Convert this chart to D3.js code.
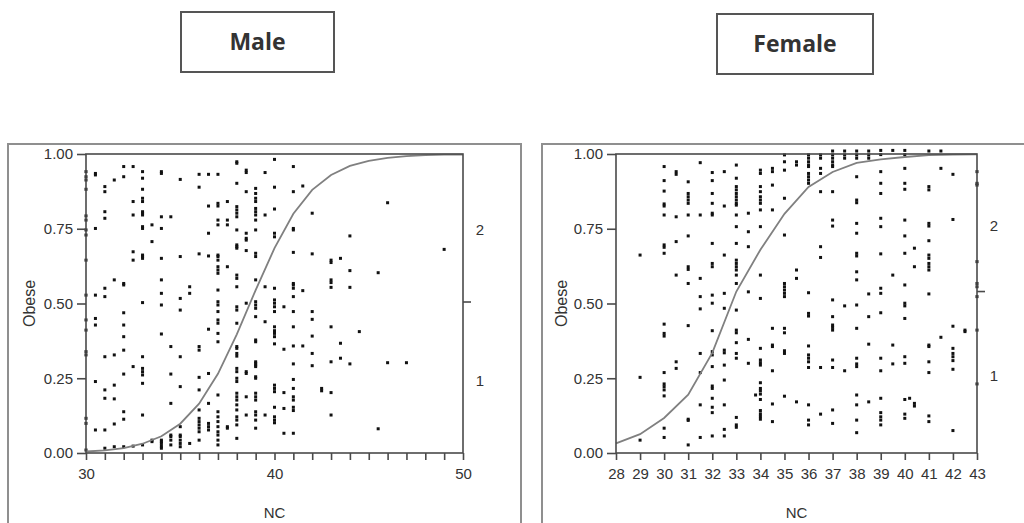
<!DOCTYPE html>
<html><head><meta charset="utf-8">
<script src="https://cdn.jsdelivr.net/npm/d3@7"></script>
<style>body{margin:0;background:#fff} svg{display:block}</style>
</head><body>
<svg id="c" width="1024" height="523"></svg>
<script>
// ---------- data ----------
const titles = ["Male", "Female"];
const yTicks = [0, 0.25, 0.5, 0.75, 1];
const rightLabels = ["2", "1"];
const axisTitleX = "NC";
const axisTitleY = "Obese";

const maleXTicks = d3.range(30, 51);
const maleXLabels = [30, 40, 50];
const femaleXTicks = d3.range(28, 44);
const femaleXLabels = d3.range(28, 44);

const maleCurveNC = [30,31,32,33,34,35,36,37,38,39,40,41,42,43,44,45,46,47,48,49,50];
const maleCurveP  = [0.005,0.009,0.016,0.031,0.056,0.098,0.165,0.265,0.397,0.545,0.685,0.80,0.88,0.93,0.96,0.977,0.987,0.993,0.996,0.998,0.998];

const femaleCurveNC = [28,29,30,31,32,33,34,35,36,37,38,39,40,41,42,43];
const femaleCurveP  = [0.032,0.063,0.117,0.195,0.335,0.54,0.68,0.80,0.89,0.94,0.97,0.982,0.99,0.996,0.998,0.999];

const maleNC = [30,30.5,31,31.5,32,32.5,33,33.5,34,34.5,35,35.5,36,36.5,37,37.5,38,38.5,39,39.5,40,40.5,41,41.5,42,42.5,43,43.5,44,44.5,45.5,46,47,49];
const maleObese = [
[0.941,0.924,0.913,0.882,0.793,0.779,0.746,0.729,0.645,0.528,0.445,0.411,0.339,0.328,0.116,0.099,0.010],
[0.935,0.930,0.751,0.528,0.450,0.428,0.239,0.077],
[0.891,0.874,0.807,0.785,0.551,0.523,0.322,0.211,0.183,0.077,0.016],
[0.913,0.579,0.328,0.227,0.181,0.097,0.021],
[0.958,0.924,0.567,0.562,0.469,0.428,0.389,0.344,0.264,0.138,0.113,0.021],
[0.958,0.841,0.796,0.673,0.645,0.289,0.023],
[0.941,0.919,0.882,0.852,0.841,0.807,0.802,0.796,0.757,0.751,0.662,0.657,0.651,0.503,0.322,0.283,0.272,0.261,0.233,0.127,0.027],
[0.763,0.707,0.043,0.038],
[0.941,0.935,0.790,0.751,0.651,0.579,0.534,0.495,0.398,0.043,0.038,0.032,0.023,0.016],
[0.790,0.356,0.264,0.166,0.060,0.055,0.043,0.027],
[0.915,0.657,0.517,0.478,0.322,0.222,0.088,0.060,0.055,0.043,0.032,0.021],
[0.556,0.534,0.032],
[0.932,0.889,0.666,0.356,0.344,0.253,0.211,0.144,0.116,0.105,0.094,0.083,0.071,0.043],
[0.932,0.826,0.735,0.659,0.414,0.266,0.166,0.099,0.088,0.077],
[0.932,0.835,0.826,0.779,0.763,0.662,0.657,0.645,0.623,0.612,0.601,0.545,0.506,0.495,0.473,0.445,0.434,0.400,0.372,0.194,0.138,0.121,0.105,0.088,0.071,0.060,0.043,0.027],
[0.841,0.779,0.763,0.623,0.088,0.083],
[0.974,0.969,0.902,0.824,0.813,0.802,0.790,0.746,0.696,0.690,0.685,0.595,0.584,0.556,0.489,0.478,0.434,0.356,0.350,0.333,0.324,0.283,0.272,0.250,0.239,0.200,0.188,0.177,0.161,0.144,0.121,0.110,0.094,0.049],
[0.946,0.938,0.874,0.735,0.718,0.712,0.677,0.501,0.272,0.266,0.188,0.127],
[0.885,0.868,0.852,0.841,0.818,0.807,0.796,0.779,0.746,0.668,0.657,0.579,0.506,0.495,0.484,0.456,0.378,0.372,0.305,0.300,0.294,0.289,0.255,0.250,0.200,0.188,0.177,0.138,0.127,0.110,0.083],
[0.938,0.796,0.556,0.439,0.127],
[0.982,0.889,0.816,0.735,0.723,0.551,0.512,0.501,0.489,0.473,0.422,0.409,0.400,0.389,0.365,0.227,0.216,0.205,0.153,0.121,0.110,0.101],
[0.489,0.347,0.202,0.149,0.066],
[0.958,0.874,0.751,0.746,0.671,0.567,0.562,0.551,0.523,0.473,0.422,0.358,0.298,0.246,0.216,0.188,0.177,0.153,0.142,0.066],
[0.893,0.543,0.358],
[0.802,0.666,0.473,0.447,0.391,0.333,0.292],
[0.216,0.208],
[0.645,0.637,0.579,0.570,0.554,0.422,0.305,0.202,0.127],
[0.651,0.367,0.317],
[0.726,0.610,0.554,0.298],
[0.406],
[0.603,0.081],
[0.837,0.302],
[0.302],
[0.681]
];

const femaleNC = [29,30,30.5,31,31.5,32,32.5,33,33.5,33.8,34,34.5,35,35.5,36,36.5,37,37.5,38,38.5,39,39.5,40,40.2,40.4,41,41.5,42,42.5,43];
const femaleObese = [
[0.662,0.253,0.043],
[0.958,0.911,0.876,0.833,0.826,0.796,0.696,0.688,0.668,0.431,0.400,0.391,0.269,0.231,0.222,0.211,0.191,0.083,0.052],
[0.941,0.932,0.790,0.707,0.595,0.305,0.283],
[0.907,0.868,0.857,0.846,0.835,0.796,0.726,0.623,0.614,0.567,0.426,0.113,0.109,0.027],
[0.971,0.796,0.584,0.523,0.482,0.333,0.269,0.161,0.052],
[0.938,0.911,0.868,0.835,0.802,0.796,0.701,0.634,0.623,0.528,0.501,0.409,0.339,0.328,0.289,0.224,0.216,0.183,0.153,0.135,0.057],
[0.941,0.826,0.662,0.534,0.484,0.344,0.335,0.294,0.244,0.161,0.079,0.057],
[0.963,0.919,0.891,0.880,0.868,0.857,0.846,0.835,0.829,0.796,0.757,0.701,0.645,0.634,0.623,0.612,0.595,0.567,0.478,0.411,0.402,0.369,0.333,0.317,0.119,0.094,0.086],
[0.802,0.740,0.690,0.539,0.380,0.300],
[0.194],
[0.946,0.935,0.891,0.874,0.857,0.846,0.835,0.813,0.757,0.595,0.517,0.350,0.311,0.302,0.294,0.235,0.216,0.208,0.197,0.179,0.142,0.131,0.122,0.113],
[0.952,0.941,0.896,0.813,0.417,0.361,0.356,0.275,0.164,0.105],
[0.997,0.974,0.946,0.852,0.729,0.567,0.556,0.545,0.534,0.523,0.417,0.402,0.342,0.333,0.190],
[0.974,0.963,0.612,0.584,0.171],
[0.997,0.986,0.974,0.963,0.958,0.935,0.924,0.913,0.902,0.536,0.467,0.458,0.358,0.328,0.317,0.305,0.286,0.161,0.110,0.094],
[0.997,0.986,0.952,0.935,0.874,0.690,0.654,0.286,0.130],
[1.01,0.997,0.986,0.974,0.963,0.958,0.874,0.779,0.759,0.512,0.456,0.428,0.420,0.411,0.311,0.286,0.144,0.099],
[1.01,0.997,0.986,0.492,0.275],
[1.01,0.997,0.986,0.924,0.846,0.837,0.768,0.735,0.668,0.659,0.606,0.579,0.495,0.417,0.317,0.298,0.289,0.194,0.161,0.110,0.068],
[1.01,0.997,0.986,0.532,0.456,0.364,0.171],
[1.012,0.998,0.941,0.902,0.868,0.785,0.757,0.666,0.551,0.534,0.469,0.317,0.275,0.183,0.135,0.121,0.110,0.094],
[1.012,0.595,0.361,0.298],
[1.012,0.998,0.952,0.902,0.882,0.779,0.726,0.668,0.562,0.501,0.492,0.450,0.322,0.300,0.179,0.130,0.116],
[0.183],
[0.685,0.623,0.166,0.157],
[1.01,0.891,0.880,0.768,0.759,0.710,0.662,0.651,0.634,0.623,0.612,0.532,0.361,0.356,0.305,0.269,0.124,0.105],
[1.01,0.952,0.387],
[0.932,0.781,0.424,0.350,0.333,0.322,0.309,0.280,0.075],
[0.411,0.406],
[0.941,0.902,0.896,0.640,0.567,0.556,0.523,0.411,0.231]
];

// ---------- drawing ----------
const svg = d3.select("#c");
svg.append("rect").attr("width", 1024).attr("height", 523).attr("fill", "#fff");
const FONT = "'Liberation Sans', Arial, sans-serif";
const TXT = "#333";

function titleBox(x0, y0, x1, y1, label) {
  svg.append("rect").attr("x", x0).attr("y", y0).attr("width", x1 - x0).attr("height", y1 - y0)
    .attr("fill", "#fff").attr("stroke", "#555").attr("stroke-width", 2);
  svg.append("text").attr("x", (x0 + x1) / 2).attr("y", (y0 + y1) / 2 - 1)
    .attr("text-anchor", "middle").attr("dominant-baseline", "central")
    .attr("font-family", "'Open Sans', sans-serif").attr("font-weight", 700)
    .attr("font-size", 23).attr("fill", "#333").text(label);
}
titleBox(181, 12, 334, 72, titles[0]);
titleBox(717, 14, 873, 74, titles[1]);

function panel(cfg) {
  const g = svg.append("g");
  g.append("rect").attr("x", cfg.frame[0]).attr("y", cfg.frame[1])
    .attr("width", cfg.frame[2]).attr("height", cfg.frame[3])
    .attr("fill", "none").attr("stroke", "#8f8f8f").attr("stroke-width", 2);

  const x = d3.scaleLinear().domain(cfg.domain).range([cfg.left, cfg.right]);
  const y = d3.scaleLinear().domain([0, 1]).range([cfg.bottom, cfg.top]);

  const pts = cfg.nc.flatMap((n, i) => cfg.vals[i].map(v => ({ n, v })));
  g.selectAll("rect.pt").data(pts).join("rect").attr("class", "pt")
    .attr("x", d => x(d.n) - 1.5).attr("y", d => y(d.v) - 1.5)
    .attr("width", 3).attr("height", 3).attr("fill", "#111");

  const line = d3.line().x(d => x(d[0])).y(d => y(d[1]));
  g.append("path").datum(cfg.cx.map((c, i) => [c, cfg.cy[i]]))
    .attr("d", line).attr("fill", "none").attr("stroke", "#808080").attr("stroke-width", 1.8);

  g.append("rect").attr("x", cfg.left).attr("y", cfg.top)
    .attr("width", cfg.right - cfg.left).attr("height", cfg.bottom - cfg.top)
    .attr("fill", "none").attr("stroke", "#4a4a4a").attr("stroke-width", 1.6);

  const yAxis = g.append("g").attr("transform", `translate(${cfg.left},0)`)
    .call(d3.axisLeft(y).tickValues(yTicks).tickFormat(d3.format(".2f")).tickSize(9).tickPadding(4));
  const xAxis = g.append("g").attr("transform", `translate(0,${cfg.bottom})`)
    .call(d3.axisBottom(x).tickValues(cfg.ticks)
      .tickFormat(d => cfg.labels.includes(d) ? d : "").tickSize(7).tickPadding(8));
  [yAxis, xAxis].forEach(a => {
    a.select(".domain").remove();
    a.selectAll("line").attr("stroke", "#4a4a4a").attr("stroke-width", 1.6);
    a.selectAll("text").attr("font-family", FONT).attr("font-size", 15).attr("fill", TXT);
  });

  g.append("line").attr("x1", cfg.right).attr("x2", cfg.right + 8)
    .attr("y1", y(cfg.rightTick)).attr("y2", y(cfg.rightTick))
    .attr("stroke", "#4a4a4a").attr("stroke-width", 1.6);
  rightLabels.forEach((t, i) => {
    g.append("text").attr("x", cfg.right + 17).attr("y", y(cfg.rightPos[i]))
      .attr("text-anchor", "middle").attr("dominant-baseline", "central")
      .attr("font-family", FONT).attr("font-size", 15).attr("fill", TXT).text(t);
  });

  g.append("text").attr("x", (cfg.left + cfg.right) / 2).attr("y", 512)
    .attr("text-anchor", "middle").attr("dominant-baseline", "central")
    .attr("font-family", FONT).attr("font-size", 15).attr("fill", TXT).text(axisTitleX);
  g.append("text").attr("transform", `translate(${cfg.ylabX},${(cfg.top + cfg.bottom) / 2}) rotate(-90)`)
    .attr("text-anchor", "middle").attr("dominant-baseline", "central")
    .attr("font-family", FONT).attr("font-size", 16).attr("fill", TXT).text(axisTitleY);
}

panel({
  frame: [8, 144, 513, 400], left: 86, right: 463, top: 154, bottom: 453,
  domain: [30, 50], ticks: maleXTicks, labels: maleXLabels,
  nc: maleNC, vals: maleObese, cx: maleCurveNC, cy: maleCurveP,
  rightTick: 0.505, rightPos: [0.746, 0.244], ylabX: 29
});
panel({
  frame: [542, 144, 520, 400], left: 616, right: 977, top: 154, bottom: 453,
  domain: [28, 43], ticks: femaleXTicks, labels: femaleXLabels,
  nc: femaleNC, vals: femaleObese, cx: femaleCurveNC, cy: femaleCurveP,
  rightTick: 0.54, rightPos: [0.76, 0.26], ylabX: 561
});
</script>
</body></html>
